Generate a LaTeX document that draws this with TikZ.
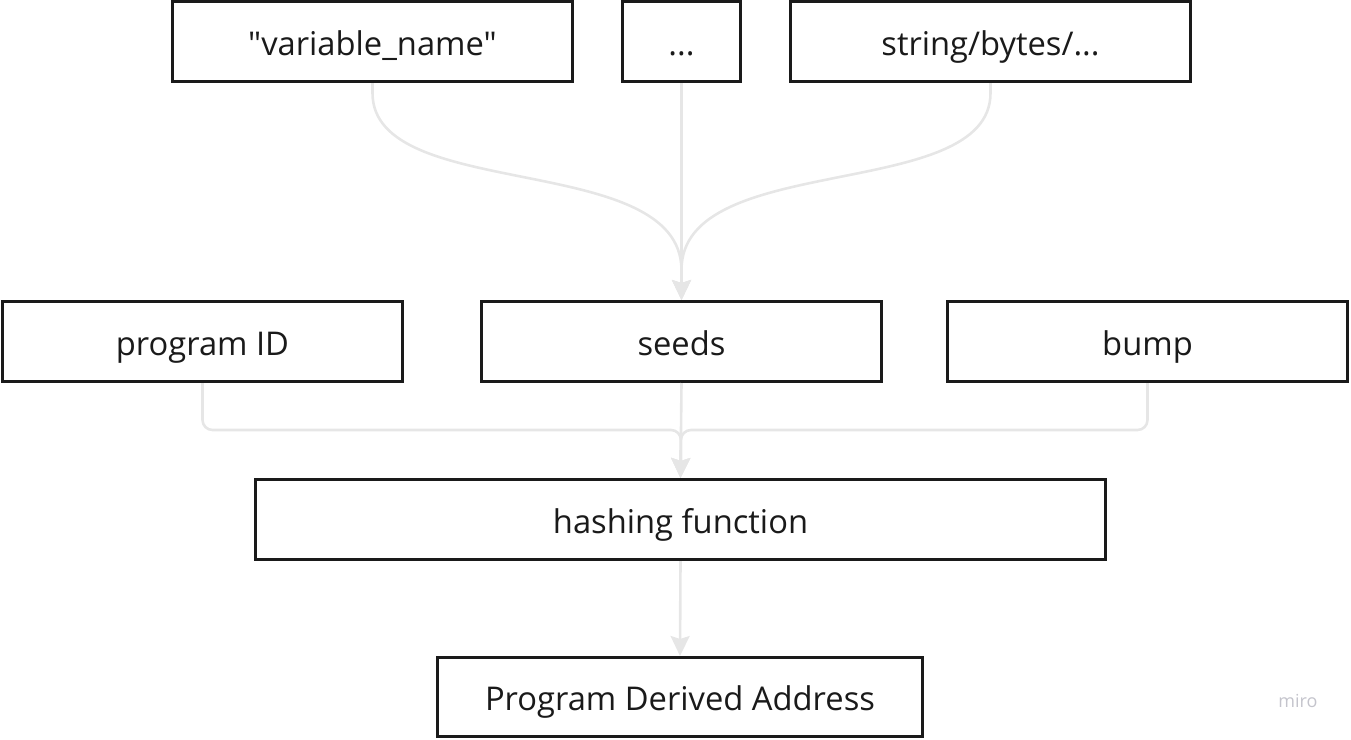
\documentclass[tikz,border=0pt]{standalone}
\usepackage{fontspec}
\setmainfont{Open Sans}
\newfontfamily\plainos{Open Sans}
\usetikzlibrary{arrows.meta,calc}
\definecolor{boxline}{HTML}{1A1A1A}
\definecolor{connline}{HTML}{E6E6E6}
\definecolor{textcol}{HTML}{1A1A1A}
\definecolor{mirocol}{HTML}{C4C4CC}
\tikzset{
  box/.style={draw=boxline, line width=3pt, fill=white, minimum height=80pt,
    inner sep=0pt, text height=27pt, text depth=0pt, text=textcol,
    font=\plainos\fontsize{32.7}{38}\selectfont},
  conn/.style={draw=connline, line width=2.6pt,
    -{Stealth[length=20pt,width=19pt,inset=3pt]}},
}
\begin{document}
\begin{tikzpicture}[x=1pt,y=-1pt]
\useasboundingbox (0,0) rectangle (1351,739);
% top row
\node[box, minimum width=400pt] (v) at (372.5,41.5) {"variable\_name"};
\node[box, minimum width=118pt] (d) at (681.5,41.5) {...};
\node[box, minimum width=400pt] (st) at (990.5,41.5) {string/bytes/...};
% middle row
\node[box, minimum width=400pt] (p) at (202.5,341.5) {program ID};
\node[box, minimum width=400pt] (s) at (681.5,341.5) {seeds};
\node[box, minimum width=400pt] (b) at (1147.5,341.5) {bump};
% hashing
\node[box, minimum width=850pt] (h) at (680.5,519.5) {hashing function};
% pda
\node[box, minimum width=485pt, minimum height=79pt] (a) at (680,697) {Program Derived Address};
% miro label
\node[text=mirocol, font=\plainos\fontsize{18}{20}\selectfont] (m) at (1298,701) {miro};
% connectors top
\coordinate (c1) at ($(s.north)+(0,-30)$);
\draw[conn] (v.south) -- ++(0,10) .. controls +(0,110) and (681,150) .. (c1) -- (s.north);
\draw[conn] (st.south) -- ++(0,10) .. controls +(0,110) and (681,150) .. (c1) -- (s.north);
\draw[conn] (d.south) -- (s.north);
% connectors lower
\coordinate (j) at (681,430);
\draw[conn, rounded corners=10pt] (p.south) |- (j) -- (h.north);
\draw[conn, rounded corners=10pt] (b.south) |- (j) -- (h.north);
\draw[conn] (s.south) -- (h.north);
\draw[conn] (h.south) -- (a.north);
\end{tikzpicture}
\end{document}
